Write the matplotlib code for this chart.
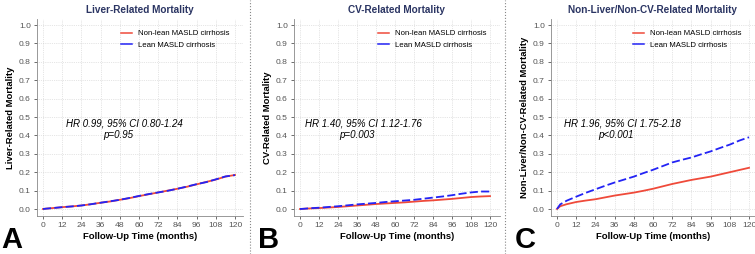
import matplotlib.pyplot as plt
from matplotlib.lines import Line2D

plt.rcParams['font.family'] = ['Liberation Sans', 'DejaVu Sans']

months = [0, 2, 6, 12, 18, 24, 30, 36, 42, 48, 54, 60, 66, 72, 78, 84, 90, 96, 102, 108, 114, 120]

# A: liver-related
liver_nonlean = [0, 0.002, 0.005, 0.010, 0.014, 0.019, 0.026, 0.034, 0.041, 0.050, 0.059, 0.070, 0.080, 0.090, 0.100, 0.110, 0.121, 0.134, 0.147, 0.160, 0.176, 0.185]
liver_lean = [0, 0.002, 0.005, 0.010, 0.014, 0.019, 0.026, 0.034, 0.042, 0.050, 0.060, 0.071, 0.081, 0.090, 0.099, 0.110, 0.122, 0.135, 0.146, 0.161, 0.177, 0.184]

# B: CV-related
cv_nonlean = [0, 0.001, 0.003, 0.005, 0.008, 0.011, 0.015, 0.019, 0.023, 0.027, 0.030, 0.033, 0.036, 0.040, 0.044, 0.047, 0.051, 0.055, 0.060, 0.065, 0.068, 0.070]
cv_lean = [0, 0.001, 0.004, 0.007, 0.011, 0.015, 0.020, 0.025, 0.029, 0.033, 0.038, 0.042, 0.046, 0.050, 0.056, 0.062, 0.068, 0.075, 0.083, 0.090, 0.095, 0.095]

# C: non-liver / non-CV
oth_nonlean = [0, 0.015, 0.026, 0.038, 0.046, 0.053, 0.063, 0.073, 0.081, 0.089, 0.099, 0.110, 0.123, 0.136, 0.147, 0.158, 0.167, 0.176, 0.188, 0.200, 0.212, 0.224]
oth_lean = [0, 0.025, 0.045, 0.067, 0.088, 0.107, 0.126, 0.144, 0.160, 0.176, 0.195, 0.213, 0.233, 0.253, 0.267, 0.280, 0.297, 0.313, 0.332, 0.350, 0.372, 0.390]

titles = ['Liver-Related Mortality', 'CV-Related Mortality', 'Non-Liver/Non-CV-Related Mortality']
ylabels = ['Liver-Related Mortality', 'CV-Related Mortality', 'Non-Liver/Non-CV-Related Mortality']
hr_texts = ['HR 0.99, 95% CI 0.80-1.24', 'HR 1.40, 95% CI 1.12-1.76', 'HR 1.96, 95% CI 1.75-2.18']
p_texts = ['p=0.95', 'p=0.003', 'p<0.001']
letters = ['A', 'B', 'C']
legend_labels = ['Non-lean MASLD cirrhosis', 'Lean MASLD cirrhosis']
series = [(liver_nonlean, liver_lean), (cv_nonlean, cv_lean), (oth_nonlean, oth_lean)]

W, H = 755, 254
red = '#ef4a3a'
blue = '#2323f5'
navy = '#2b3563'

fig = plt.figure(figsize=(W / 100, H / 100), dpi=100)

# axes boxes in pixels: left spine, right edge, x0 px, x120 px
boxes = [(37, 243, 43, 235), (294, 500, 300, 490), (551, 755, 557, 749)]
top_px, bot_px = 19, 216
y0_px, y1_px = 209, 25

for i, (l, r, x0, x120) in enumerate(boxes):
    ax = fig.add_axes([l / W, 1 - bot_px / H, (r - l) / W, (bot_px - top_px) / H])
    ppm = (x120 - x0) / 120.0
    ax.set_xlim(-(x0 - l) / ppm, 120 + (r - x120) / ppm)
    ppy = (y0_px - y1_px) / 1.0
    ax.set_ylim(-(bot_px - y0_px) / ppy, 1 + (y1_px - top_px) / ppy)

    nl, ln = series[i]
    ax.plot(months, nl, color=red, lw=1.3, label=legend_labels[0])
    ax.plot(months, ln, color=blue, lw=1.3, dashes=(4.5, 1.8), label=legend_labels[1])

    ax.set_xticks(range(0, 121, 12))
    ax.set_yticks([k / 10 for k in range(11)])
    ax.set_yticklabels(['%.1f' % (k / 10) for k in range(11)])
    ax.tick_params(labelsize=6.1, colors='#555555', length=2.5, width=0.6, pad=2)
    ax.grid(True, ls=':', lw=0.5, color='#cccccc')
    for s in ['top', 'right']:
        ax.spines[s].set_visible(False)
    for s in ['left', 'bottom']:
        ax.spines[s].set_color('#888888')
        ax.spines[s].set_linewidth(0.6)

    ax.set_title(titles[i], fontsize=7.2, fontweight='bold', color=navy, pad=4)
    ax.set_xlabel('Follow-Up Time (months)', fontsize=6.8, fontweight='bold', labelpad=2)
    ax.set_ylabel(ylabels[i], fontsize=6.8, fontweight='bold', labelpad=3)

    hr_x = [51, 40, 40.6][i]
    ax.text(hr_x, 0.465, hr_texts[i], fontsize=7, style='italic', ha='center', va='center')
    ax.text(hr_x - 4, 0.40, p_texts[i], fontsize=7, style='italic', ha='center', va='center')

    handles = [Line2D([], [], color=red, lw=1.1), Line2D([], [], color=blue, lw=1.1)]
    ax.legend(handles, legend_labels, loc='upper right', fontsize=5.6, frameon=False,
              handlelength=1.4, handletextpad=0.8, labelspacing=0.5,
              bbox_to_anchor=(0.97, 0.98))

    fig.text((l - 36) / W, 1 - 248 / H, letters[i], fontsize=21, fontweight='bold',
             ha='left', va='baseline')

for xs in [250, 505]:
    fig.add_artist(Line2D([xs / W, xs / W], [0, 1], color='#888888', lw=0.8, ls=':'))

fig.savefig('out.png', dpi=100)
